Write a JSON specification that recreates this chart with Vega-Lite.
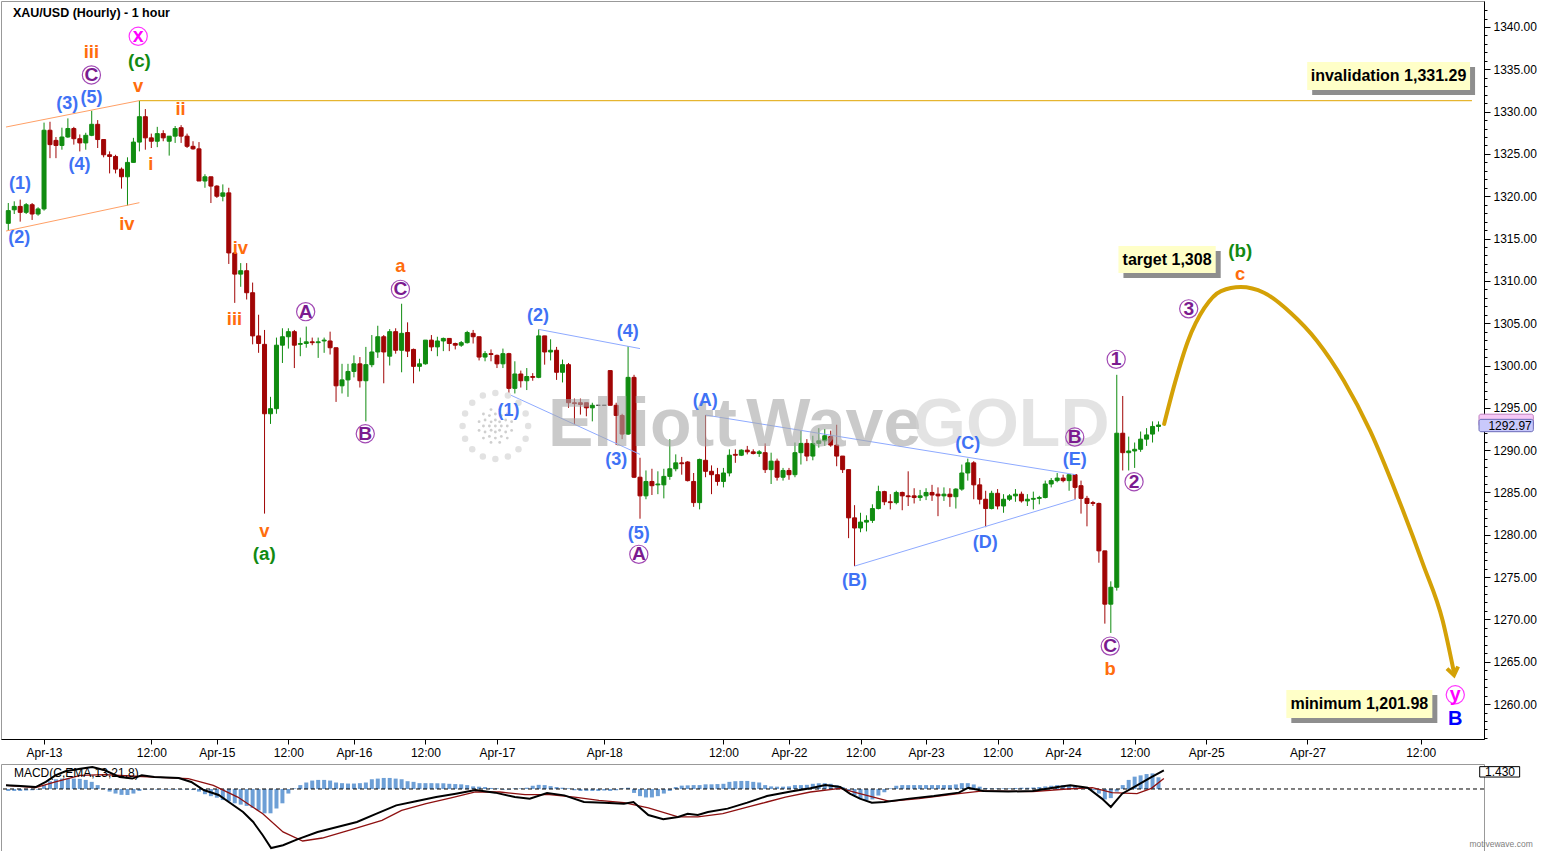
{
  "$schema": "https://vega.github.io/schema/vega-lite/v6.json",
  "padding": 0,
  "background": "white",
  "spacing": 3,
  "config": {
    "view": {"stroke": "#999999"},
    "axis": {"labelFont": "Liberation Sans", "labelFontSize": 12, "labelColor": "#000000", "tickColor": "#000000", "domainColor": "#000000", "grid": false, "title": null}
  },
  "datasets": {
    "candles": [
      {"i":0,"o":1316.8,"h":1319.2,"l":1315.9,"c":1318.3,"m":-0.15},
      {"i":1,"o":1318.4,"h":1319.4,"l":1317.9,"c":1318.8,"m":-0.15},
      {"i":2,"o":1318.8,"h":1319.6,"l":1317.0,"c":1318.1,"m":-0.15},
      {"i":3,"o":1318.1,"h":1319.2,"l":1317.9,"c":1319.0,"m":-0.12},
      {"i":4,"o":1319.0,"h":1319.2,"l":1317.2,"c":1317.9,"m":-0.1},
      {"i":5,"o":1317.9,"h":1318.7,"l":1317.7,"c":1318.5,"m":-0.05},
      {"i":6,"o":1318.5,"h":1328.7,"l":1318.3,"c":1327.8,"m":0.3},
      {"i":7,"o":1327.8,"h":1328.8,"l":1324.5,"c":1326.1,"m":0.6},
      {"i":8,"o":1326.6,"h":1327.0,"l":1324.5,"c":1326.0,"m":0.75},
      {"i":9,"o":1326.0,"h":1328.1,"l":1325.5,"c":1327.0,"m":0.8},
      {"i":10,"o":1327.0,"h":1329.2,"l":1326.9,"c":1328.0,"m":0.8},
      {"i":11,"o":1328.0,"h":1328.2,"l":1326.1,"c":1326.8,"m":0.8},
      {"i":12,"o":1326.8,"h":1327.3,"l":1325.3,"c":1326.3,"m":0.78},
      {"i":13,"o":1326.3,"h":1327.5,"l":1325.5,"c":1327.2,"m":0.7},
      {"i":14,"o":1327.2,"h":1330.1,"l":1327.1,"c":1328.5,"m":0.55},
      {"i":15,"o":1328.5,"h":1329.0,"l":1325.7,"c":1326.7,"m":0.3},
      {"i":16,"o":1326.7,"h":1326.7,"l":1324.6,"c":1324.9,"m":0.05},
      {"i":17,"o":1324.9,"h":1325.3,"l":1322.7,"c":1324.7,"m":-0.2},
      {"i":18,"o":1324.7,"h":1324.9,"l":1322.7,"c":1323.2,"m":-0.35},
      {"i":19,"o":1323.2,"h":1323.4,"l":1320.9,"c":1322.3,"m":-0.45},
      {"i":20,"o":1322.3,"h":1324.6,"l":1318.9,"c":1324.0,"m":-0.46},
      {"i":21,"o":1324.0,"h":1326.9,"l":1324.0,"c":1326.4,"m":-0.35},
      {"i":22,"o":1326.4,"h":1331.29,"l":1325.3,"c":1329.4,"m":-0.15},
      {"i":23,"o":1329.4,"h":1330.3,"l":1325.5,"c":1326.9,"m":-0.05},
      {"i":24,"o":1326.9,"h":1327.4,"l":1325.7,"c":1326.5,"m":-0.04},
      {"i":25,"o":1326.5,"h":1328.2,"l":1325.8,"c":1327.4,"m":-0.05},
      {"i":26,"o":1327.4,"h":1327.8,"l":1326.5,"c":1326.9,"m":-0.04},
      {"i":27,"o":1326.5,"h":1327.1,"l":1324.8,"c":1327.1,"m":-0.05},
      {"i":28,"o":1327.1,"h":1328.3,"l":1326.3,"c":1328.0,"m":-0.05},
      {"i":29,"o":1328.1,"h":1328.4,"l":1326.3,"c":1327.1,"m":-0.04},
      {"i":30,"o":1327.1,"h":1327.4,"l":1325.7,"c":1325.9,"m":-0.05},
      {"i":31,"o":1325.9,"h":1326.5,"l":1325.5,"c":1325.6,"m":-0.08},
      {"i":32,"o":1325.6,"h":1326.4,"l":1321.8,"c":1321.8,"m":-0.2},
      {"i":33,"o":1321.8,"h":1322.6,"l":1321.0,"c":1322.3,"m":-0.4},
      {"i":34,"o":1322.3,"h":1322.3,"l":1319.2,"c":1321.2,"m":-0.55},
      {"i":35,"o":1321.2,"h":1321.3,"l":1319.8,"c":1320.0,"m":-0.67},
      {"i":36,"o":1320.0,"h":1321.4,"l":1319.4,"c":1320.4,"m":-0.85},
      {"i":37,"o":1320.4,"h":1321.0,"l":1312.0,"c":1313.3,"m":-0.95},
      {"i":38,"o":1313.3,"h":1313.3,"l":1307.4,"c":1310.8,"m":-1.1},
      {"i":39,"o":1310.8,"h":1312.1,"l":1309.3,"c":1311.2,"m":-1.2},
      {"i":40,"o":1311.2,"h":1312.1,"l":1307.8,"c":1308.6,"m":-1.3},
      {"i":41,"o":1308.6,"h":1309.8,"l":1302.5,"c":1303.5,"m":-1.45},
      {"i":42,"o":1303.5,"h":1306.0,"l":1301.5,"c":1302.6,"m":-1.65},
      {"i":43,"o":1302.5,"h":1304.2,"l":1282.5,"c":1294.3,"m":-1.87},
      {"i":44,"o":1294.3,"h":1296.3,"l":1293.1,"c":1294.9,"m":-1.87},
      {"i":45,"o":1294.9,"h":1303.3,"l":1294.3,"c":1302.4,"m":-1.5},
      {"i":46,"o":1302.4,"h":1304.4,"l":1300.3,"c":1303.4,"m":-1.1},
      {"i":47,"o":1303.4,"h":1304.4,"l":1302.0,"c":1304.0,"m":-0.35},
      {"i":48,"o":1304.0,"h":1304.2,"l":1299.7,"c":1302.4,"m":0.05},
      {"i":49,"o":1302.5,"h":1303.3,"l":1301.1,"c":1302.6,"m":0.3},
      {"i":50,"o":1302.6,"h":1304.6,"l":1302.1,"c":1302.8,"m":0.5},
      {"i":51,"o":1302.8,"h":1303.3,"l":1302.4,"c":1302.7,"m":0.65},
      {"i":52,"o":1302.7,"h":1303.3,"l":1300.9,"c":1302.8,"m":0.7},
      {"i":53,"o":1302.9,"h":1303.3,"l":1301.5,"c":1303.0,"m":0.7},
      {"i":54,"o":1302.9,"h":1304.0,"l":1301.3,"c":1302.1,"m":0.65},
      {"i":55,"o":1302.1,"h":1302.1,"l":1295.7,"c":1297.6,"m":0.5},
      {"i":56,"o":1297.6,"h":1300.2,"l":1296.7,"c":1298.3,"m":0.45},
      {"i":57,"o":1298.3,"h":1300.2,"l":1296.3,"c":1299.3,"m":0.42},
      {"i":58,"o":1299.3,"h":1301.2,"l":1298.6,"c":1300.2,"m":0.42},
      {"i":59,"o":1300.2,"h":1301.0,"l":1297.4,"c":1298.2,"m":0.45},
      {"i":60,"o":1298.2,"h":1302.2,"l":1293.4,"c":1300.1,"m":0.5},
      {"i":61,"o":1300.1,"h":1303.6,"l":1299.8,"c":1301.6,"m":0.75},
      {"i":62,"o":1301.6,"h":1304.7,"l":1300.9,"c":1303.4,"m":0.8},
      {"i":63,"o":1303.4,"h":1303.6,"l":1297.9,"c":1301.6,"m":0.85},
      {"i":64,"o":1301.1,"h":1304.3,"l":1300.0,"c":1304.0,"m":0.85},
      {"i":65,"o":1304.0,"h":1304.4,"l":1301.4,"c":1301.8,"m":0.8},
      {"i":66,"o":1301.8,"h":1307.3,"l":1299.2,"c":1303.8,"m":0.75},
      {"i":67,"o":1303.9,"h":1305.1,"l":1301.0,"c":1301.7,"m":0.6},
      {"i":68,"o":1301.9,"h":1302.0,"l":1297.9,"c":1299.9,"m":0.55},
      {"i":69,"o":1299.9,"h":1300.8,"l":1299.3,"c":1300.2,"m":0.45},
      {"i":70,"o":1300.2,"h":1303.0,"l":1300.1,"c":1303.0,"m":0.45},
      {"i":71,"o":1303.0,"h":1303.6,"l":1301.7,"c":1302.2,"m":0.45},
      {"i":72,"o":1302.2,"h":1303.4,"l":1301.1,"c":1302.9,"m":0.44},
      {"i":73,"o":1302.9,"h":1303.3,"l":1301.7,"c":1303.2,"m":0.44},
      {"i":74,"o":1303.2,"h":1303.2,"l":1301.7,"c":1302.6,"m":0.4},
      {"i":75,"o":1302.6,"h":1302.7,"l":1301.9,"c":1302.4,"m":0.38},
      {"i":76,"o":1302.4,"h":1302.9,"l":1302.2,"c":1302.7,"m":0.36},
      {"i":77,"o":1302.7,"h":1304.1,"l":1302.6,"c":1303.9,"m":0.3},
      {"i":78,"o":1303.8,"h":1304.2,"l":1302.6,"c":1303.4,"m":0.2},
      {"i":79,"o":1303.4,"h":1303.4,"l":1300.6,"c":1301.0,"m":0.18},
      {"i":80,"o":1301.0,"h":1301.7,"l":1300.5,"c":1301.4,"m":0.15},
      {"i":81,"o":1301.4,"h":1301.9,"l":1300.5,"c":1301.3,"m":0.08},
      {"i":82,"o":1301.2,"h":1301.3,"l":1299.7,"c":1300.2,"m":0.05},
      {"i":83,"o":1300.2,"h":1302.0,"l":1299.7,"c":1301.4,"m":-0.05},
      {"i":84,"o":1301.4,"h":1301.5,"l":1296.6,"c":1297.3,"m":-0.05},
      {"i":85,"o":1297.3,"h":1300.5,"l":1296.7,"c":1299.0,"m":0.05},
      {"i":86,"o":1299.0,"h":1299.4,"l":1297.4,"c":1298.2,"m":0.05},
      {"i":87,"o":1298.2,"h":1299.7,"l":1297.1,"c":1298.7,"m":0.1},
      {"i":88,"o":1298.7,"h":1299.1,"l":1298.2,"c":1298.6,"m":0.25},
      {"i":89,"o":1298.6,"h":1304.27,"l":1298.5,"c":1303.5,"m":0.32},
      {"i":90,"o":1303.5,"h":1303.5,"l":1300.1,"c":1301.6,"m":0.3},
      {"i":91,"o":1301.6,"h":1303.1,"l":1300.6,"c":1301.8,"m":0.22},
      {"i":92,"o":1301.8,"h":1302.2,"l":1298.3,"c":1299.2,"m":0.15},
      {"i":93,"o":1299.2,"h":1300.7,"l":1298.0,"c":1300.1,"m":0.1},
      {"i":94,"o":1300.1,"h":1300.3,"l":1295.0,"c":1295.6,"m":0.05},
      {"i":95,"o":1295.6,"h":1296.1,"l":1293.1,"c":1295.5,"m":-0.1},
      {"i":96,"o":1295.6,"h":1296.1,"l":1294.2,"c":1295.4,"m":-0.15},
      {"i":97,"o":1295.6,"h":1295.6,"l":1294.0,"c":1295.0,"m":-0.15},
      {"i":98,"o":1295.0,"h":1295.6,"l":1293.4,"c":1295.3,"m":-0.15},
      {"i":99,"o":1295.3,"h":1295.3,"l":1295.3,"c":1295.3,"m":-0.15},
      {"i":100,"o":1295.3,"h":1295.3,"l":1295.3,"c":1295.3,"m":-0.12},
      {"i":101,"o":1299.4,"h":1299.4,"l":1295.3,"c":1295.3,"m":-0.15},
      {"i":102,"o":1295.3,"h":1295.6,"l":1290.6,"c":1294.1,"m":-0.1},
      {"i":103,"o":1294.1,"h":1294.3,"l":1291.3,"c":1291.9,"m":0.05},
      {"i":104,"o":1291.9,"h":1302.3,"l":1291.8,"c":1298.6,"m":0.1},
      {"i":105,"o":1298.6,"h":1298.9,"l":1286.7,"c":1286.8,"m":-0.3},
      {"i":106,"o":1286.8,"h":1289.1,"l":1281.9,"c":1284.6,"m":-0.55},
      {"i":107,"o":1284.6,"h":1287.6,"l":1284.2,"c":1286.3,"m":-0.65},
      {"i":108,"o":1286.3,"h":1287.8,"l":1284.7,"c":1285.8,"m":-0.65},
      {"i":109,"o":1285.9,"h":1287.5,"l":1284.8,"c":1286.0,"m":-0.55},
      {"i":110,"o":1285.9,"h":1287.8,"l":1284.3,"c":1286.9,"m":-0.35},
      {"i":111,"o":1286.9,"h":1291.3,"l":1286.5,"c":1287.8,"m":-0.15},
      {"i":112,"o":1287.8,"h":1289.5,"l":1287.5,"c":1288.5,"m":0.15},
      {"i":113,"o":1288.5,"h":1289.2,"l":1287.1,"c":1288.4,"m":0.26},
      {"i":114,"o":1288.6,"h":1288.7,"l":1286.3,"c":1286.4,"m":0.28},
      {"i":115,"o":1286.3,"h":1287.3,"l":1283.3,"c":1283.8,"m":0.3},
      {"i":116,"o":1283.8,"h":1289.0,"l":1283.0,"c":1288.9,"m":0.3},
      {"i":117,"o":1288.8,"h":1294.15,"l":1286.8,"c":1287.5,"m":0.36},
      {"i":118,"o":1287.5,"h":1288.2,"l":1284.8,"c":1287.1,"m":0.36},
      {"i":119,"o":1287.1,"h":1287.9,"l":1285.8,"c":1286.3,"m":0.38},
      {"i":120,"o":1286.3,"h":1287.9,"l":1285.6,"c":1287.3,"m":0.4},
      {"i":121,"o":1287.3,"h":1290.1,"l":1286.9,"c":1289.4,"m":0.55},
      {"i":122,"o":1289.5,"h":1290.1,"l":1288.5,"c":1289.4,"m":0.6},
      {"i":123,"o":1289.4,"h":1290.1,"l":1289.3,"c":1290.0,"m":0.62},
      {"i":124,"o":1290.0,"h":1290.5,"l":1289.5,"c":1289.8,"m":0.62},
      {"i":125,"o":1289.8,"h":1290.1,"l":1289.5,"c":1289.6,"m":0.55},
      {"i":126,"o":1289.6,"h":1290.0,"l":1289.2,"c":1289.8,"m":0.5},
      {"i":127,"o":1289.7,"h":1290.8,"l":1287.3,"c":1287.7,"m":0.3},
      {"i":128,"o":1287.7,"h":1289.7,"l":1286.0,"c":1288.7,"m":0.2},
      {"i":129,"o":1288.7,"h":1289.0,"l":1286.4,"c":1286.8,"m":0.18},
      {"i":130,"o":1286.8,"h":1287.9,"l":1286.4,"c":1287.6,"m":0.18},
      {"i":131,"o":1287.6,"h":1287.9,"l":1286.5,"c":1287.1,"m":0.2},
      {"i":132,"o":1287.1,"h":1290.9,"l":1286.8,"c":1289.7,"m":0.3},
      {"i":133,"o":1289.7,"h":1292.3,"l":1288.3,"c":1290.8,"m":0.3},
      {"i":134,"o":1290.8,"h":1291.3,"l":1288.7,"c":1289.3,"m":0.32},
      {"i":135,"o":1289.3,"h":1291.7,"l":1288.8,"c":1290.8,"m":0.4},
      {"i":136,"o":1290.8,"h":1292.6,"l":1290.3,"c":1291.1,"m":0.44},
      {"i":137,"o":1291.1,"h":1292.5,"l":1290.5,"c":1291.7,"m":0.45},
      {"i":138,"o":1291.6,"h":1292.3,"l":1290.4,"c":1290.6,"m":0.4},
      {"i":139,"o":1290.6,"h":1293.0,"l":1288.1,"c":1289.3,"m":0.3},
      {"i":140,"o":1289.3,"h":1289.3,"l":1287.3,"c":1287.7,"m":0.15},
      {"i":141,"o":1287.7,"h":1287.7,"l":1279.6,"c":1282.0,"m":-0.15},
      {"i":142,"o":1282.0,"h":1283.5,"l":1276.3,"c":1280.8,"m":-0.5},
      {"i":143,"o":1280.8,"h":1282.6,"l":1280.3,"c":1281.5,"m":-0.7},
      {"i":144,"o":1281.5,"h":1282.3,"l":1280.4,"c":1281.7,"m":-0.85},
      {"i":145,"o":1281.7,"h":1283.6,"l":1281.4,"c":1283.1,"m":-0.8},
      {"i":146,"o":1283.1,"h":1285.8,"l":1283.0,"c":1285.1,"m":-0.5},
      {"i":147,"o":1285.1,"h":1285.2,"l":1283.5,"c":1283.9,"m":-0.25},
      {"i":148,"o":1283.9,"h":1284.8,"l":1283.0,"c":1283.8,"m":0.05},
      {"i":149,"o":1283.8,"h":1285.2,"l":1283.6,"c":1285.0,"m":0.25},
      {"i":150,"o":1285.0,"h":1285.1,"l":1282.9,"c":1284.6,"m":0.3},
      {"i":151,"o":1284.6,"h":1287.5,"l":1283.4,"c":1284.5,"m":0.3},
      {"i":152,"o":1284.6,"h":1285.5,"l":1283.7,"c":1284.4,"m":0.3},
      {"i":153,"o":1284.4,"h":1285.3,"l":1284.0,"c":1284.6,"m":0.3},
      {"i":154,"o":1284.6,"h":1285.5,"l":1284.1,"c":1285.0,"m":0.3},
      {"i":155,"o":1285.0,"h":1285.9,"l":1284.0,"c":1284.7,"m":0.3},
      {"i":156,"o":1284.8,"h":1285.6,"l":1282.2,"c":1284.6,"m":0.3},
      {"i":157,"o":1284.6,"h":1285.6,"l":1284.0,"c":1284.8,"m":0.3},
      {"i":158,"o":1284.8,"h":1285.5,"l":1283.3,"c":1284.5,"m":0.3},
      {"i":159,"o":1284.5,"h":1285.5,"l":1283.1,"c":1285.4,"m":0.35},
      {"i":160,"o":1285.4,"h":1288.3,"l":1285.2,"c":1287.3,"m":0.45},
      {"i":161,"o":1287.3,"h":1289.0,"l":1286.4,"c":1288.5,"m":0.45},
      {"i":162,"o":1288.5,"h":1288.7,"l":1284.2,"c":1285.9,"m":0.35},
      {"i":163,"o":1285.9,"h":1286.7,"l":1283.6,"c":1284.2,"m":0.18},
      {"i":164,"o":1284.2,"h":1285.2,"l":1280.9,"c":1283.1,"m":0.08},
      {"i":165,"o":1283.1,"h":1285.2,"l":1283.0,"c":1284.9,"m":0.05},
      {"i":166,"o":1284.9,"h":1285.4,"l":1283.0,"c":1283.4,"m":0.05},
      {"i":167,"o":1283.4,"h":1284.8,"l":1282.6,"c":1284.2,"m":0.05},
      {"i":168,"o":1284.2,"h":1284.8,"l":1284.0,"c":1284.6,"m":0.05},
      {"i":169,"o":1284.6,"h":1285.4,"l":1283.9,"c":1284.8,"m":0.08},
      {"i":170,"o":1284.8,"h":1285.1,"l":1283.8,"c":1284.0,"m":0.1},
      {"i":171,"o":1284.0,"h":1284.8,"l":1283.4,"c":1284.2,"m":0.1},
      {"i":172,"o":1284.2,"h":1285.1,"l":1283.0,"c":1284.3,"m":0.12},
      {"i":173,"o":1284.3,"h":1284.6,"l":1283.6,"c":1284.4,"m":0.15},
      {"i":174,"o":1284.4,"h":1286.4,"l":1284.3,"c":1286.0,"m":0.2},
      {"i":175,"o":1286.0,"h":1286.7,"l":1285.6,"c":1286.4,"m":0.25},
      {"i":176,"o":1286.4,"h":1287.3,"l":1286.2,"c":1286.7,"m":0.3},
      {"i":177,"o":1286.7,"h":1287.1,"l":1286.2,"c":1286.4,"m":0.3},
      {"i":178,"o":1286.4,"h":1287.1,"l":1285.2,"c":1287.1,"m":0.3},
      {"i":179,"o":1287.1,"h":1287.1,"l":1284.2,"c":1285.6,"m":0.25},
      {"i":180,"o":1285.8,"h":1286.4,"l":1282.5,"c":1284.3,"m":0.18},
      {"i":181,"o":1284.3,"h":1284.6,"l":1281.0,"c":1283.7,"m":0.1},
      {"i":182,"o":1283.8,"h":1284.0,"l":1283.4,"c":1283.7,"m":-0.1},
      {"i":183,"o":1283.7,"h":1283.8,"l":1276.7,"c":1278.1,"m":-0.35},
      {"i":184,"o":1278.1,"h":1278.1,"l":1269.5,"c":1271.8,"m":-0.8},
      {"i":185,"o":1271.8,"h":1274.5,"l":1268.4,"c":1273.8,"m":-0.7},
      {"i":186,"o":1273.8,"h":1298.9,"l":1273.4,"c":1292.0,"m":-0.2},
      {"i":187,"o":1292.0,"h":1296.4,"l":1287.6,"c":1289.7,"m":0.3},
      {"i":188,"o":1289.7,"h":1291.6,"l":1287.6,"c":1289.9,"m":0.7},
      {"i":189,"o":1289.9,"h":1290.9,"l":1287.9,"c":1290.1,"m":0.95},
      {"i":190,"o":1290.1,"h":1292.2,"l":1289.8,"c":1291.3,"m":1.05},
      {"i":191,"o":1291.3,"h":1292.6,"l":1290.5,"c":1291.8,"m":1.15},
      {"i":192,"o":1291.9,"h":1293.4,"l":1290.9,"c":1292.8,"m":1.2},
      {"i":193,"o":1292.8,"h":1293.4,"l":1292.2,"c":1292.97,"m":0.9}
    ],
    "macd": [
      {"i":-0.38,"v":0.28},{"i":2.1,"v":0.23},{"i":4.6,"v":0.15},{"i":6.3,"v":0.55},{"i":7.9,"v":1.05},{"i":9.6,"v":1.36},{"i":12.1,"v":1.56},{"i":14.1,"v":1.69},{"i":16.2,"v":1.44},{"i":18.7,"v":0.92},{"i":20.8,"v":0.8},{"i":22.4,"v":1.05},{"i":24.5,"v":0.92},{"i":28.6,"v":0.85},{"i":30.7,"v":0.54},{"i":32.8,"v":-0.08},{"i":35.3,"v":-0.46},{"i":37.3,"v":-1.1},{"i":39.4,"v":-1.77},{"i":41.1,"v":-2.54},{"i":42.7,"v":-3.56},{"i":44.1,"v":-4.54},{"i":46.1,"v":-4.33},{"i":48.5,"v":-3.87},{"i":51.9,"v":-3.31},{"i":55.2,"v":-2.92},{"i":58.5,"v":-2.54},{"i":61.8,"v":-1.9},{"i":65.1,"v":-1.26},{"i":68.4,"v":-0.95},{"i":71.8,"v":-0.62},{"i":75.1,"v":-0.36},{"i":78.4,"v":-0.08},{"i":81.7,"v":-0.28},{"i":85,"v":-0.62},{"i":87.5,"v":-0.74},{"i":90.4,"v":-0.31},{"i":93.3,"v":-0.49},{"i":96.6,"v":-1.0},{"i":100,"v":-1.05},{"i":103.3,"v":-1.13},{"i":104.9,"v":-1.0},{"i":107.4,"v":-2.0},{"i":109.9,"v":-2.33},{"i":112.4,"v":-2.15},{"i":114,"v":-1.9},{"i":115.7,"v":-2.0},{"i":117.4,"v":-1.77},{"i":120.7,"v":-1.51},{"i":124,"v":-1.05},{"i":127.3,"v":-0.54},{"i":131.3,"v":-0.2},{"i":134.6,"v":0.05},{"i":137.1,"v":0.31},{"i":139.6,"v":0.15},{"i":141.2,"v":-0.36},{"i":142.9,"v":-0.74},{"i":144.9,"v":-1.05},{"i":147,"v":-1.0},{"i":151.2,"v":-0.74},{"i":155.3,"v":-0.54},{"i":159.5,"v":-0.28},{"i":161.1,"v":0.1},{"i":163.6,"v":-0.15},{"i":167.8,"v":-0.2},{"i":171.9,"v":-0.15},{"i":176.1,"v":0.15},{"i":178.2,"v":0.28},{"i":181.1,"v":0.1},{"i":183.5,"v":-0.74},{"i":185,"v":-1.38},{"i":186.9,"v":-0.36},{"i":189.4,"v":0.28},{"i":191.8,"v":0.92},{"i":193.9,"v":1.43}
    ],
    "signal": [
      {"i":-0.38,"v":0.28},{"i":4.6,"v":0.1},{"i":7.9,"v":0.54},{"i":12.1,"v":1.05},{"i":16.2,"v":1.1},{"i":20.4,"v":1.0},{"i":24.5,"v":0.92},{"i":30.2,"v":0.8},{"i":34.4,"v":0.28},{"i":38.5,"v":-0.62},{"i":42.7,"v":-1.9},{"i":46.1,"v":-3.3},{"i":49.4,"v":-4.0},{"i":52.7,"v":-3.77},{"i":57.7,"v":-3.1},{"i":62.7,"v":-2.41},{"i":66,"v":-1.64},{"i":70.1,"v":-1.13},{"i":74.3,"v":-0.69},{"i":78.4,"v":-0.23},{"i":82.5,"v":-0.23},{"i":86.7,"v":-0.44},{"i":90.8,"v":-0.44},{"i":95,"v":-0.62},{"i":99.1,"v":-0.87},{"i":103.3,"v":-1.05},{"i":107.4,"v":-1.46},{"i":112.4,"v":-2.15},{"i":115.7,"v":-2.15},{"i":119.9,"v":-1.9},{"i":124,"v":-1.4},{"i":127.3,"v":-1.0},{"i":130.4,"v":-0.62},{"i":134.6,"v":-0.23},{"i":139.6,"v":0.05},{"i":142.9,"v":-0.36},{"i":147.9,"v":-0.95},{"i":152.8,"v":-0.74},{"i":159.5,"v":-0.36},{"i":163.6,"v":-0.15},{"i":171.9,"v":-0.2},{"i":177.7,"v":0.0},{"i":181.9,"v":0.1},{"i":185.2,"v":-0.28},{"i":189.4,"v":-0.36},{"i":191.8,"v":0.05},{"i":193.9,"v":0.8}
    ],
    "lines": [
      {"g":"inv","kind":"invalidation","i":22,"p":1331.29},{"g":"inv","kind":"invalidation","i":245.6,"p":1331.29},
      {"g":"ch1","kind":"channel","i":-0.38,"p":1328.18},{"g":"ch1","kind":"channel","i":22,"p":1331.3},
      {"g":"ch2","kind":"channel","i":-0.38,"p":1315.89},{"g":"ch2","kind":"channel","i":22,"p":1319.24},
      {"g":"t1","kind":"triangle","i":89,"p":1304.27},{"g":"t1","kind":"triangle","i":106,"p":1302.0},
      {"g":"t2","kind":"triangle","i":84,"p":1296.6},{"g":"t2","kind":"triangle","i":106,"p":1289.5},
      {"g":"t3","kind":"triangle","i":117,"p":1294.15},{"g":"t3","kind":"triangle","i":179.1,"p":1287.1},
      {"g":"t4","kind":"triangle","i":142,"p":1276.3},{"g":"t4","kind":"triangle","i":179.1,"p":1284.2}
    ],
    "forecast": [
      {"i":193.95,"p":1293.1},{"i":195.7,"p":1297.8},{"i":197.95,"p":1302.9},{"i":200.7,"p":1306.8},{"i":203.5,"p":1308.8},{"i":206.8,"p":1309.28},{"i":210.7,"p":1308.6},{"i":215.2,"p":1306.2},{"i":219.6,"p":1302.9},{"i":224.1,"p":1298.2},{"i":228.5,"p":1292.3},{"i":232.95,"p":1284.8},{"i":237.4,"p":1276.5},{"i":240.7,"p":1269.8},{"i":242.5,"p":1264.0}
    ],
    "labels": [
      {"i":21.8,"p":1338.9,"t":"x","deg":"intermediate"},
      {"i":22,"p":1335.98,"t":"(c)","deg":"minor"},
      {"i":21.8,"p":1333.03,"t":"v","deg":"subminuette"},
      {"i":13.95,"p":1337.08,"t":"iii","deg":"subminuette"},
      {"i":13.95,"p":1334.33,"t":"C","deg":"minute"},
      {"i":13.95,"p":1331.65,"t":"(5)","deg":"minuette"},
      {"i":9.9,"p":1330.94,"t":"(3)","deg":"minuette"},
      {"i":11.95,"p":1323.66,"t":"(4)","deg":"minuette"},
      {"i":1.95,"p":1321.41,"t":"(1)","deg":"minuette"},
      {"i":1.83,"p":1315.1,"t":"(2)","deg":"minuette"},
      {"i":28.9,"p":1330.27,"t":"ii","deg":"subminuette"},
      {"i":23.9,"p":1323.78,"t":"i","deg":"subminuette"},
      {"i":19.9,"p":1316.76,"t":"iv","deg":"subminuette"},
      {"i":38.95,"p":1313.92,"t":"iv","deg":"subminuette"},
      {"i":37.95,"p":1305.46,"t":"iii","deg":"subminuette"},
      {"i":42.95,"p":1280.44,"t":"v","deg":"subminuette"},
      {"i":42.95,"p":1277.76,"t":"(a)","deg":"minor"},
      {"i":49.9,"p":1306.36,"t":"A","deg":"minute"},
      {"i":59.9,"p":1291.94,"t":"B","deg":"minute"},
      {"i":65.8,"p":1311.76,"t":"a","deg":"subminuette"},
      {"i":65.8,"p":1309.0,"t":"C","deg":"minute"},
      {"i":88.9,"p":1305.85,"t":"(2)","deg":"minuette"},
      {"i":103.95,"p":1304.0,"t":"(4)","deg":"minuette"},
      {"i":83.95,"p":1294.62,"t":"(1)","deg":"minuette"},
      {"i":102,"p":1288.8,"t":"(3)","deg":"minuette"},
      {"i":105.8,"p":1280.13,"t":"(5)","deg":"minuette"},
      {"i":105.8,"p":1277.69,"t":"A","deg":"minute"},
      {"i":116.95,"p":1295.8,"t":"(A)","deg":"minuette"},
      {"i":142,"p":1274.53,"t":"(B)","deg":"minuette"},
      {"i":161,"p":1290.76,"t":"(C)","deg":"minuette"},
      {"i":163.95,"p":1279.06,"t":"(D)","deg":"minuette"},
      {"i":178.95,"p":1291.55,"t":"B","deg":"minute"},
      {"i":178.95,"p":1288.8,"t":"(E)","deg":"minuette"},
      {"i":184.9,"p":1266.85,"t":"C","deg":"minute"},
      {"i":184.9,"p":1264.1,"t":"b","deg":"subminuette"},
      {"i":185.9,"p":1300.73,"t":"1","deg":"minute"},
      {"i":188.9,"p":1286.27,"t":"2","deg":"minute"},
      {"i":198.07,"p":1306.7,"t":"3","deg":"minute"},
      {"i":206.7,"p":1313.53,"t":"(b)","deg":"minor"},
      {"i":206.7,"p":1310.78,"t":"c","deg":"subminuette"},
      {"i":242.8,"p":1261.1,"t":"y","deg":"intermediate"},
      {"i":242.8,"p":1258.2,"t":"B","deg":"primary"}
    ],
    "boxes": [
      {"x1":186.28,"x2":202.6,"p1":1314.12,"p2":1310.93,"t":"target 1,308","ti":194.44,"tp":1312.45},
      {"x1":217.95,"x2":245.28,"p1":1335.86,"p2":1332.56,"t":"invalidation 1,331.29","ti":231.6,"tp":1334.15},
      {"x1":214.45,"x2":238.95,"p1":1261.65,"p2":1258.34,"t":"minimum 1,201.98","ti":226.7,"tp":1259.95}
    ],
    "tags": [
      {"x1":246.78,"x2":255.9,"p1":1294.25,"p2":1292.8,"kind":"bid","t":"","ti":252,"tp":1293.5},
      {"x1":246.78,"x2":255.9,"p1":1293.64,"p2":1292.18,"kind":"last","t":"1292.97","ti":252,"tp":1292.91}
    ],
    "watermark": [
      {"i":106.4,"p":1292.85,"t":"Elliott"},
      {"i":138.5,"p":1292.85,"t":"Wave"},
      {"i":168.3,"p":1292.85,"t":"GOLD"}
    ],
    "logo": [
      {"i":87.23,"p":1292.85,"ring":"outer"},{"i":86.81,"p":1291.36,"ring":"outer"},{"i":85.61,"p":1290.1,"ring":"outer"},{"i":83.83,"p":1289.25,"ring":"outer"},
      {"i":81.73,"p":1288.95,"ring":"outer"},{"i":79.63,"p":1289.25,"ring":"outer"},{"i":77.85,"p":1290.1,"ring":"outer"},{"i":76.65,"p":1291.36,"ring":"outer"},
      {"i":76.23,"p":1292.85,"ring":"outer"},{"i":76.65,"p":1294.34,"ring":"outer"},{"i":77.85,"p":1295.6,"ring":"outer"},{"i":79.63,"p":1296.45,"ring":"outer"},
      {"i":81.73,"p":1296.75,"ring":"outer"},{"i":83.83,"p":1296.45,"ring":"outer"},{"i":85.61,"p":1295.6,"ring":"outer"},{"i":86.81,"p":1294.34,"ring":"outer"},
      {"i":84.46,"p":1292.33,"ring":"inner"},{"i":83.73,"p":1291.43,"ring":"inner"},{"i":82.46,"p":1290.91,"ring":"inner"},{"i":81.0,"p":1290.91,"ring":"inner"},
      {"i":79.73,"p":1291.43,"ring":"inner"},{"i":79.0,"p":1292.33,"ring":"inner"},{"i":79.0,"p":1293.37,"ring":"inner"},{"i":79.73,"p":1294.27,"ring":"inner"},
      {"i":81.0,"p":1294.79,"ring":"inner"},{"i":82.46,"p":1294.79,"ring":"inner"},{"i":83.73,"p":1294.27,"ring":"inner"},{"i":84.46,"p":1293.37,"ring":"inner"},
      {"i":83.73,"p":1292.85,"ring":"inner"},{"i":83.46,"p":1292.14,"ring":"inner"},{"i":82.73,"p":1291.62,"ring":"inner"},{"i":81.73,"p":1291.43,"ring":"inner"},
      {"i":80.73,"p":1291.62,"ring":"inner"},{"i":80.0,"p":1292.14,"ring":"inner"},{"i":79.73,"p":1292.85,"ring":"inner"},{"i":80.0,"p":1293.56,"ring":"inner"},
      {"i":80.73,"p":1294.08,"ring":"inner"},{"i":81.73,"p":1294.27,"ring":"inner"},{"i":82.73,"p":1294.08,"ring":"inner"},{"i":83.46,"p":1293.56,"ring":"inner"},
      {"i":82.73,"p":1292.85,"ring":"inner"},{"i":82.44,"p":1292.35,"ring":"inner"},{"i":81.73,"p":1292.14,"ring":"inner"},{"i":81.02,"p":1292.35,"ring":"inner"},
      {"i":80.73,"p":1292.85,"ring":"inner"},{"i":81.02,"p":1293.35,"ring":"inner"},{"i":81.73,"p":1293.56,"ring":"inner"},{"i":82.44,"p":1293.35,"ring":"inner"},
      {"i":81.73,"p":1292.85,"ring":"inner"}
    ]
  },
  "vconcat": [
    {
      "width": 1483,
      "height": 738,
      "encoding": {
        "x": {"field": "i", "type": "quantitative", "scale": {"domain": [-0.383, 246.78], "nice": false, "zero": false}, "axis": null},
        "y": {"field": "p", "type": "quantitative", "scale": {"domain": [1255.87, 1343.07], "nice": false, "zero": false}, "axis": null}
      },
      "resolve": {"axis": {"x": "independent", "y": "independent"}, "scale": {"color": "independent", "stroke": "independent", "size": "independent", "fill": "independent"}},
      "layer": [
        {
          "data": {"name": "candles"},
          "mark": {"type": "rule", "strokeWidth": 1},
          "encoding": {
            "x": {"field": "i", "type": "quantitative", "scale": {"domain": [-0.383, 246.78], "nice": false, "zero": false},
              "axis": {"orient": "bottom", "values": [6,24,35,47,58,70,82,100,120,131,143,154,166,177,189,201,218,237],
                "labelExpr": "datum.value == 6 ? 'Apr-13' : datum.value == 35 ? 'Apr-15' : datum.value == 58 ? 'Apr-16' : datum.value == 82 ? 'Apr-17' : datum.value == 100 ? 'Apr-18' : datum.value == 131 ? 'Apr-22' : datum.value == 154 ? 'Apr-23' : datum.value == 177 ? 'Apr-24' : datum.value == 201 ? 'Apr-25' : datum.value == 218 ? 'Apr-27' : '12:00'",
                "tickSize": 5, "labelPadding": 3, "labelOverlap": false, "labelFlush": false, "domainColor": "#000000"}},
            "y": {"field": "l", "type": "quantitative", "scale": {"domain": [1255.87, 1343.07], "nice": false, "zero": false},
              "axis": {"orient": "right", "values": [1260,1265,1270,1275,1280,1285,1290,1295,1300,1305,1310,1315,1320,1325,1330,1335,1340], "format": ".2f", "tickSize": 6, "labelPadding": 3, "labelOverlap": false, "labelFlush": false}},
            "y2": {"field": "h"},
            "color": {"condition": [{"test": "datum.h == datum.l", "value": "#444444"}, {"test": "datum.c >= datum.o", "value": "#108c10"}], "value": "#a10505"}
          }
        },
        {
          "data": {"name": "candles"},
          "mark": {"type": "bar", "size": 4, "strokeWidth": 1},
          "encoding": {
            "y": {"field": "o", "type": "quantitative", "scale": {"domain": [1255.87, 1343.07], "nice": false, "zero": false},
              "axis": {"orient": "right", "values": [1256,1257,1258,1259,1261,1262,1263,1264,1266,1267,1268,1269,1271,1272,1273,1274,1276,1277,1278,1279,1281,1282,1283,1284,1286,1287,1288,1289,1291,1292,1293,1294,1296,1297,1298,1299,1301,1302,1303,1304,1306,1307,1308,1309,1311,1312,1313,1314,1316,1317,1318,1319,1321,1322,1323,1324,1326,1327,1328,1329,1331,1332,1333,1334,1336,1337,1338,1339,1341,1342], "labels": false, "domain": false, "tickSize": 3}},
            "y2": {"field": "c"},
            "color": {"condition": [{"test": "datum.h == datum.l", "value": "#444444"}, {"test": "datum.c >= datum.o", "value": "#108c10"}], "value": "#a10505"},
            "stroke": {"condition": [{"test": "datum.h == datum.l", "value": "#444444"}, {"test": "datum.c >= datum.o", "value": "#108c10"}], "value": "#a10505"}
          }
        },
        {
          "data": {"name": "lines"},
          "mark": {"type": "line", "strokeWidth": 1},
          "encoding": {
            "detail": {"field": "g"},
            "color": {"field": "kind", "type": "nominal", "scale": {"domain": ["invalidation", "channel", "triangle"], "range": ["#e0a400", "#ffa066", "#8eaaff"]}, "legend": null}
          }
        },
        {
          "data": {"name": "logo"},
          "mark": {"type": "circle", "opacity": 1},
          "encoding": {
            "color": {"condition": {"test": "datum.ring == 'outer'", "value": "#e2e2e2"}, "value": "#cfcfcf"},
            "size": {"condition": {"test": "datum.ring == 'outer'", "value": 42}, "value": 8}
          }
        },
        {
          "data": {"name": "watermark"},
          "mark": {"type": "text", "font": "Liberation Sans", "fontWeight": "bold", "fontSize": 68, "baseline": "middle", "align": "center", "opacity": 0.6},
          "encoding": {
            "text": {"field": "t"},
            "color": {"condition": {"test": "datum.t == 'GOLD'", "value": "#d2d2d2"}, "value": "#a8a8a8"}
          }
        },
        {
          "data": {"name": "forecast"},
          "mark": {"type": "line", "interpolate": "monotone", "strokeWidth": 4, "color": "#d4a106", "strokeCap": "round"},
          "encoding": {}
        },
        {
          "data": {"values": [{"i": 242.45, "p": 1263.9}]},
          "mark": {"type": "point", "shape": "M-0.8,-0.5L0,0.6L0.8,-0.5", "filled": false, "size": 200, "strokeWidth": 4, "color": "#d4a106", "angle": 349, "opacity": 1},
          "encoding": {}
        },
        {
          "data": {"name": "boxes"},
          "mark": {"type": "rect", "fill": "#8e8e8e", "xOffset": 5, "x2Offset": 5, "yOffset": 5, "y2Offset": 5},
          "encoding": {
            "x": {"field": "x1", "type": "quantitative", "scale": {"domain": [-0.383, 246.78], "nice": false, "zero": false}, "axis": null},
            "x2": {"field": "x2"},
            "y": {"field": "p1", "type": "quantitative", "scale": {"domain": [1255.87, 1343.07], "nice": false, "zero": false}, "axis": null},
            "y2": {"field": "p2"}
          }
        },
        {
          "data": {"name": "boxes"},
          "mark": {"type": "rect", "fill": "#ffffc8"},
          "encoding": {
            "x": {"field": "x1", "type": "quantitative", "scale": {"domain": [-0.383, 246.78], "nice": false, "zero": false}, "axis": null},
            "x2": {"field": "x2"},
            "y": {"field": "p1", "type": "quantitative", "scale": {"domain": [1255.87, 1343.07], "nice": false, "zero": false}, "axis": null},
            "y2": {"field": "p2"}
          }
        },
        {
          "data": {"name": "boxes"},
          "mark": {"type": "text", "font": "Liberation Sans", "fontWeight": "bold", "fontSize": 16, "color": "#000000", "align": "center", "baseline": "middle"},
          "encoding": {
            "x": {"field": "ti", "type": "quantitative", "scale": {"domain": [-0.383, 246.78], "nice": false, "zero": false}, "axis": null},
            "y": {"field": "tp", "type": "quantitative", "scale": {"domain": [1255.87, 1343.07], "nice": false, "zero": false}, "axis": null},
            "text": {"field": "t"}
          }
        },
        {
          "data": {"name": "labels"},
          "transform": [{"filter": "datum.deg == 'minute' || datum.deg == 'intermediate'"}],
          "mark": {"type": "point", "shape": "circle", "filled": false, "size": 330, "strokeWidth": 1.2, "opacity": 1},
          "encoding": {
            "stroke": {"field": "deg", "type": "nominal", "scale": {"domain": ["minute", "intermediate"], "range": ["#a24ab4", "#ff33ff"]}, "legend": null}
          }
        },
        {
          "data": {"name": "labels"},
          "mark": {"type": "text", "font": "Liberation Sans", "fontWeight": "bold", "align": "center", "baseline": "middle"},
          "encoding": {
            "text": {"field": "t"},
            "color": {"field": "deg", "type": "nominal", "scale": {"domain": ["minuette", "subminuette", "minor", "minute", "intermediate", "primary"], "range": ["#3f72f5", "#ff6d0d", "#128a12", "#7b1b8f", "#ff00ff", "#0000ff"]}, "legend": null},
            "size": {"field": "deg", "type": "nominal", "scale": {"domain": ["minuette", "subminuette", "minor", "minute", "intermediate", "primary"], "range": [18, 20, 18, 15, 17, 19]}, "legend": null}
          }
        },
        {
          "data": {"values": [{"i": 0.78, "p": 1341.6, "t": "XAU/USD (Hourly) - 1 hour"}]},
          "mark": {"type": "text", "font": "Liberation Sans", "fontWeight": "bold", "fontSize": 12.5, "color": "#000000", "align": "left", "baseline": "middle"},
          "encoding": {"text": {"field": "t"}}
        },
        {
          "data": {"name": "tags"},
          "mark": {"type": "rect", "strokeWidth": 1, "cornerRadius": 2},
          "encoding": {
            "x": {"field": "x1", "type": "quantitative", "scale": {"domain": [-0.383, 246.78], "nice": false, "zero": false}, "axis": null},
            "x2": {"field": "x2"},
            "y": {"field": "p1", "type": "quantitative", "scale": {"domain": [1255.87, 1343.07], "nice": false, "zero": false}, "axis": null},
            "y2": {"field": "p2"},
            "fill": {"condition": {"test": "datum.kind == 'bid'", "value": "#f6c8f6"}, "value": "#c9c9fb"},
            "stroke": {"condition": {"test": "datum.kind == 'bid'", "value": "#c080c0"}, "value": "#6a6ab8"}
          }
        },
        {
          "data": {"name": "tags"},
          "mark": {"type": "text", "font": "Liberation Sans", "fontSize": 12, "color": "#000000", "align": "center", "baseline": "middle"},
          "encoding": {
            "x": {"field": "ti", "type": "quantitative", "scale": {"domain": [-0.383, 246.78], "nice": false, "zero": false}, "axis": null},
            "y": {"field": "tp", "type": "quantitative", "scale": {"domain": [1255.87, 1343.07], "nice": false, "zero": false}, "axis": null},
            "text": {"field": "t"}
          }
        }
      ]
    },
    {
      "width": 1483,
      "height": 88,
      "layer": [
        {
          "data": {"name": "candles"},
          "mark": {"type": "bar", "size": 4, "color": "#6d9fd6"},
          "encoding": {
            "x": {"field": "i", "type": "quantitative", "scale": {"domain": [-0.383, 246.78], "nice": false, "zero": false}, "axis": null},
            "y": {"field": "m", "type": "quantitative", "scale": {"domain": [-4.846, 1.923], "nice": false, "zero": false},
              "axis": {"orient": "right", "values": [0, -2, -4], "labelExpr": "datum.value == 0 ? '0.000' : datum.value == -2 ? '-2.000' : '-4.000'", "tickSize": 5, "labelPadding": 3, "labelOverlap": false, "labelFlush": false}},
            "y2": {"datum": 0}
          }
        },
        {
          "data": {"values": [{}]},
          "mark": {"type": "rule", "strokeDash": [4, 3], "color": "#000000", "strokeWidth": 1},
          "encoding": {"y": {"datum": 0, "type": "quantitative", "scale": {"domain": [-4.846, 1.923], "nice": false, "zero": false}, "axis": null}}
        },
        {
          "data": {"name": "signal"},
          "mark": {"type": "line", "color": "#8e1010", "strokeWidth": 1.3},
          "encoding": {
            "x": {"field": "i", "type": "quantitative", "scale": {"domain": [-0.383, 246.78], "nice": false, "zero": false}, "axis": null},
            "y": {"field": "v", "type": "quantitative", "scale": {"domain": [-4.846, 1.923], "nice": false, "zero": false}, "axis": null}
          }
        },
        {
          "data": {"name": "macd"},
          "mark": {"type": "line", "color": "#000000", "strokeWidth": 2},
          "encoding": {
            "x": {"field": "i", "type": "quantitative", "scale": {"domain": [-0.383, 246.78], "nice": false, "zero": false}, "axis": null},
            "y": {"field": "v", "type": "quantitative", "scale": {"domain": [-4.846, 1.923], "nice": false, "zero": false}, "axis": null}
          }
        },
        {
          "data": {"values": [{"i": 0.95, "v": 1.23, "t": "MACD(C,EMA,13,21,8)"}]},
          "mark": {"type": "text", "font": "Liberation Sans", "fontSize": 12, "color": "#000000", "align": "left", "baseline": "middle"},
          "encoding": {
            "x": {"field": "i", "type": "quantitative", "scale": {"domain": [-0.383, 246.78], "nice": false, "zero": false}, "axis": null},
            "y": {"field": "v", "type": "quantitative", "scale": {"domain": [-4.846, 1.923], "nice": false, "zero": false}, "axis": null},
            "text": {"field": "t"}
          }
        },
        {
          "data": {"values": [{"x1": 246.9, "x2": 253.6, "v1": 1.72, "v2": 0.92}]},
          "mark": {"type": "rect", "fill": "#ffffff", "stroke": "#000000", "strokeWidth": 1},
          "encoding": {
            "x": {"field": "x1", "type": "quantitative", "scale": {"domain": [-0.383, 246.78], "nice": false, "zero": false}, "axis": null},
            "x2": {"field": "x2"},
            "y": {"field": "v1", "type": "quantitative", "scale": {"domain": [-4.846, 1.923], "nice": false, "zero": false}, "axis": null},
            "y2": {"field": "v2"}
          }
        },
        {
          "data": {"values": [{"i": 250.3, "v": 1.31, "t": "1.430"}]},
          "mark": {"type": "text", "font": "Liberation Sans", "fontSize": 12, "color": "#000000", "align": "center", "baseline": "middle"},
          "encoding": {
            "x": {"field": "i", "type": "quantitative", "scale": {"domain": [-0.383, 246.78], "nice": false, "zero": false}, "axis": null},
            "y": {"field": "v", "type": "quantitative", "scale": {"domain": [-4.846, 1.923], "nice": false, "zero": false}, "axis": null},
            "text": {"field": "t"}
          }
        },
        {
          "data": {"values": [{"i": 255.8, "v": -4.23, "t": "motivewave.com"}]},
          "mark": {"type": "text", "font": "Liberation Sans", "fontSize": 8.5, "color": "#808080", "align": "right", "baseline": "middle"},
          "encoding": {
            "x": {"field": "i", "type": "quantitative", "scale": {"domain": [-0.383, 246.78], "nice": false, "zero": false}, "axis": null},
            "y": {"field": "v", "type": "quantitative", "scale": {"domain": [-4.846, 1.923], "nice": false, "zero": false}, "axis": null},
            "text": {"field": "t"}
          }
        }
      ]
    }
  ]
}
